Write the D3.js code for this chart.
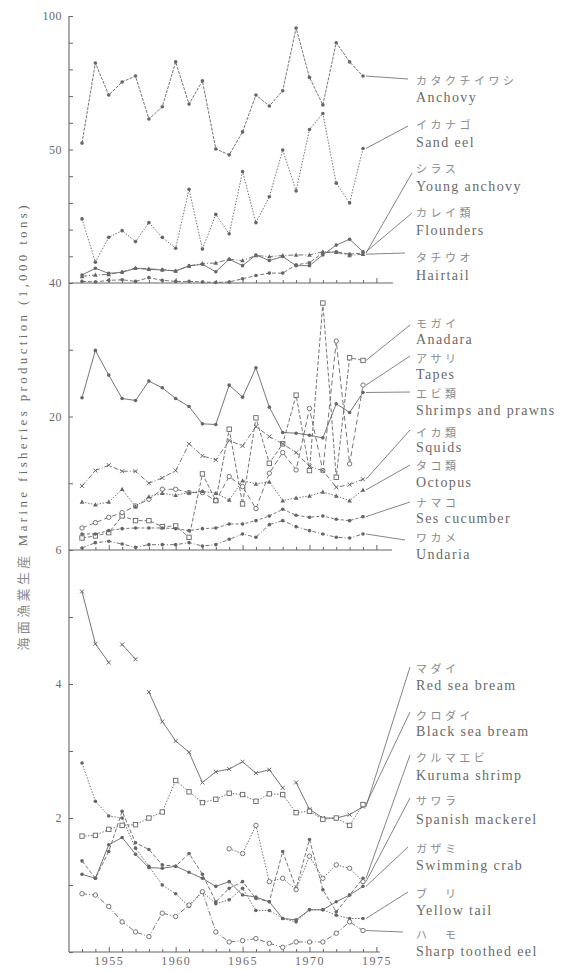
<!DOCTYPE html>
<html><head><meta charset="utf-8">
<script src="https://cdn.jsdelivr.net/npm/d3@7"></script>
<style>body{margin:0;background:#fff}svg{display:block}</style>
</head><body>
<svg id="c" width="563" height="971"></svg>
<script>
// ---------- DATA ----------
const years = d3.range(1953, 1975);
// top panel (1,000 tons)
const anchovy      = [52.4, 82.4, 70.4, 75.3, 77.5, 61.4, 66.0, 82.8, 67.0, 75.7, 50.2, 48.0, 56.6, 70.4, 66.3, 72.0, 95.5, 77.0, 66.7, 90.0, 82.8, 77.5];
const sandEel      = [24.0, 7.8, 17.1, 19.6, 15.5, 22.6, 17.1, 13.0, 35.1, 12.7, 25.7, 18.4, 41.7, 22.6, 32.3, 49.8, 34.5, 57.5, 63.5, 37.4, 30.0, 50.4];
const youngAnchovy = [0.6, 0.4, 1.0, 1.2, 0.6, 2.0, 1.0, 0.6, 0.6, 0.4, 0.2, 0.4, 1.6, 2.8, 3.7, 3.7, 6.8, 7.6, 11.3, 11.7, 10.8, 11.2];
const flounders    = [3.0, 5.5, 3.6, 4.0, 5.5, 5.1, 4.9, 4.5, 6.4, 7.0, 4.2, 8.9, 6.5, 10.5, 8.4, 9.9, 6.5, 6.5, 10.5, 14.2, 16.4, 11.7];
const hairtail     = [2.5, 3.0, 3.2, 4.2, 5.6, 5.3, 5.0, 4.5, 6.4, 7.3, 7.5, 8.9, 8.4, 10.3, 9.9, 10.3, 10.5, 10.5, 11.7, 11.5, 10.3, 10.8];
// middle panel
const anadara      = [1.8, 2.1, 2.6, 5.1, 4.4, 4.4, 3.5, 3.6, 1.9, 11.4, 7.4, 18.1, 6.9, 19.8, 13.0, 15.9, 23.2, 11.9, 37.0, 10.9, 28.8, 28.4];
const tapes        = [3.3, 4.1, 4.9, 5.6, 6.6, 7.6, 9.1, 9.1, 8.6, 8.6, 7.4, 11.0, 9.5, 6.2, 11.5, 14.6, 12.0, 21.2, 11.9, 31.3, 12.9, 24.7];
const shrimps      = [22.8, 29.9, 26.2, 22.7, 22.4, 25.3, 24.3, 22.7, 21.5, 18.9, 18.8, 24.7, 22.9, 27.3, 21.4, 17.6, 17.5, 17.2, 16.8, 21.9, 20.6, 23.6];
const squids       = [9.6, 11.9, 12.7, 11.8, 11.8, 10.0, 10.8, 11.9, 15.9, 14.1, 13.5, 16.4, 15.6, 18.5, 17.0, 15.9, 14.6, 12.5, 11.9, 9.4, 9.8, 10.6];
const octopus      = [7.2, 6.8, 7.2, 9.1, 6.5, 8.0, 8.5, 8.2, 8.6, 8.8, 8.5, 7.5, 10.4, 9.9, 10.2, 7.4, 7.8, 8.1, 8.7, 8.1, 7.4, 9.0];
const seaCucumber  = [2.4, 2.4, 2.9, 3.2, 3.3, 3.3, 3.3, 3.2, 2.9, 3.2, 3.3, 3.9, 3.9, 4.4, 5.1, 6.1, 5.2, 4.9, 5.1, 4.6, 4.4, 5.0];
const undaria      = [0.3, 1.1, 1.3, 0.9, 0.4, 0.8, 0.8, 0.8, 1.1, 0.6, 0.8, 1.6, 2.4, 1.9, 3.8, 4.4, 3.5, 2.9, 2.4, 1.9, 1.8, 2.4];
// bottom panel
const redSeaBream     = [5.38, 4.60, 4.32, 4.59, 4.37, 3.88, 3.44, 3.15, 2.98, 2.53, 2.69, 2.73, 2.84, 2.67, 2.72, 2.45, 2.53, 2.13, 2.00, 2.00, 2.05, 2.17];
const redSeaBreamGaps = [1955, 1957, 1968];
const blackSeaBream   = [1.73, 1.74, 1.83, 1.89, 1.90, 2.00, 2.09, 2.56, 2.39, 2.23, 2.28, 2.37, 2.35, 2.25, 2.36, 2.35, 2.08, 2.10, 1.98, 2.00, 1.89, 2.20];
const kurumaShrimp    = [1.36, 1.10, 1.50, 2.10, 1.63, 1.53, 1.30, 1.28, 1.47, 1.16, 0.75, 0.95, 1.05, 0.80, 0.75, 1.50, 0.95, 1.68, 0.93, 0.60, 0.85, 1.10];
const spanishMackerel = [null, null, null, null, null, null, null, null, null, null, null, 1.54, 1.47, 1.89, 1.05, 1.10, 0.93, 1.43, 1.10, 1.30, 1.25, 1.05];
const swimmingCrab    = [1.16, 1.10, 1.60, 1.71, 1.46, 1.26, 1.25, 1.28, 1.19, 1.10, 0.98, 1.05, 0.85, 0.82, 0.75, 0.50, 0.48, 0.63, 0.63, 0.75, 0.85, 0.98];
const yellowTail      = [2.82, 2.25, 2.03, 2.00, 1.55, 1.28, 1.00, 0.87, 0.68, 0.90, 0.72, 0.78, 0.95, 0.62, 0.62, 0.50, 0.45, 0.63, 0.63, 0.55, 0.50, 0.50];
const sharpToothedEel = [0.87, 0.85, 0.68, 0.45, 0.30, 0.23, 0.58, 0.53, 0.70, 0.90, 0.30, 0.15, 0.17, 0.20, 0.13, 0.07, 0.15, 0.15, 0.15, 0.28, 0.45, 0.32];

// tick labels
const topTickLabels = [100, 50];
const midTickLabels = [40, 20];
const botTickLabels = [6, 4, 2];
const xTickLabels = [1955, 1960, 1965, 1970, 1975];
const yTitleJa = "海面漁業生産";
const yTitleEn = "Marine fisheries production (1,000 tons)";

// ---------- LAYOUT ----------
const svg = d3.select("#c");
const INK = "#666", TXT = "#6a6a6a", JTXT = "#8a8a8a";
const AX = 69;
const x = d3.scaleLinear().domain([1953, 1974]).range([82, 363]);
const yTop = d3.scaleLinear().domain([0, 100]).range([283, 16]);
const yMid = d3.scaleLinear().domain([0, 40]).range([550, 283]);
const yBot = d3.scaleLinear().domain([0, 6]).range([952, 550]);

const series = [
  {v: anchovy, y: yTop, dash: "3,1.2", mk: "dot", ja: "カタクチイワシ", en: "Anchovy", jy: 80, ey: 97, lx: 408, ly: 79},
  {v: sandEel, y: yTop, dash: "1.5,1.5", mk: "dot", ja: "イカナゴ", en: "Sand eel", jy: 124, ey: 142, lx: 408, ly: 126},
  {v: youngAnchovy, y: yTop, dash: "4,2", mk: "dot", ja: "シラス", en: "Young anchovy", jy: 168, ey: 186, lx: 412, ly: 173},
  {v: flounders, y: yTop, dash: null, mk: "dot", ja: "カレイ類", en: "Flounders", jy: 212, ey: 230, lx: 412, ly: 213},
  {v: hairtail, y: yTop, dash: "5,2,1,2", mk: "tri", ja: "タチウオ", en: "Hairtail", jy: 257, ey: 275, lx: 405, ly: 253},

  {v: anadara, y: yMid, dash: "4,2", mk: "sq", ja: "モガイ", en: "Anadara", jy: 323, ey: 339, lx: 410, ly: 325},
  {v: tapes, y: yMid, dash: "5,3", mk: "ocircle", ja: "アサリ", en: "Tapes", jy: 358, ey: 374, lx: 410, ly: 356},
  {v: shrimps, y: yMid, dash: null, mk: "dot", ja: "エビ類", en: "Shrimps and prawns", jy: 393, ey: 410, lx: 410, ly: 392},
  {v: squids, y: yMid, dash: "5,2,1,2", mk: "x", ja: "イカ類", en: "Squids", jy: 432, ey: 447, lx: 410, ly: 430},
  {v: octopus, y: yMid, dash: "1.5,1.5", mk: "tri", ja: "タコ類", en: "Octopus", jy: 465, ey: 482, lx: 410, ly: 465},
  {v: seaCucumber, y: yMid, dash: "3,2", mk: "dot", ja: "ナマコ", en: "Ses cucumber", jy: 502, ey: 518, lx: 410, ly: 502},
  {v: undaria, y: yMid, dash: "4,2,1,2", mk: "dot", ja: "ワカメ", en: "Undaria", jy: 537, ey: 554, lx: 405, ly: 540},

  {v: redSeaBream, y: yBot, dash: null, mk: "x", gaps: redSeaBreamGaps, ja: "マダイ", en: "Red sea bream", jy: 668, ey: 685, lx: 410, ly: 667},
  {v: blackSeaBream, y: yBot, dash: "1.5,1.5", mk: "sq", ja: "クロダイ", en: "Black sea bream", jy: 715, ey: 731, lx: 410, ly: 712},
  {v: kurumaShrimp, y: yBot, dash: "4,2", mk: "dot", ja: "クルマエビ", en: "Kuruma shrimp", jy: 757, ey: 775, lx: 410, ly: 755},
  {v: spanishMackerel, y: yBot, dash: "1.5,1.5", mk: "ocircle", ja: "サワラ", en: "Spanish mackerel", jy: 800, ey: 819, lx: 410, ly: 798},
  {v: swimmingCrab, y: yBot, dash: null, mk: "dot", ja: "ガザミ", en: "Swimming crab", jy: 848, ey: 865, lx: 408, ly: 847},
  {v: yellowTail, y: yBot, dash: "1.5,1.5", mk: "dot", ja: "ブ　リ", en: "Yellow tail", jy: 893, ey: 910, lx: 408, ly: 892},
  {v: sharpToothedEel, y: yBot, dash: "5,2,1,2", mk: "ocircle", ja: "ハ　モ", en: "Sharp toothed eel", jy: 934, ey: 951, lx: 403, ly: 932}
];

// ---------- AXES ----------
const gAx = svg.append("g").attr("font-family", "Liberation Serif, serif").attr("font-size", 12).attr("fill", TXT);

function leftAxis(scale, step, labels) {
  const [lo, hi] = scale.domain();
  const ax = d3.axisLeft(scale)
    .tickValues(d3.range(lo, hi + 0.001, step))
    .tickSize(-4).tickPadding(7)
    .tickFormat(d => labels.includes(d) ? String(d) : "");
  const g = gAx.append("g").attr("transform", `translate(${AX},0)`).call(ax);
  g.select(".domain").remove();
  g.selectAll("line").attr("stroke", INK);
  g.selectAll("text").attr("fill", TXT).attr("font-family", "Liberation Serif, serif").attr("font-size", 12).attr("letter-spacing", 0.5);
}
leftAxis(yTop, 10, topTickLabels);
leftAxis(yMid, 10, midTickLabels);
leftAxis(yBot, 1, botTickLabels);
gAx.append("line").attr("x1", AX).attr("x2", AX).attr("y1", yTop(100)).attr("y2", yBot(0)).attr("stroke", INK).attr("stroke-width", 1.1);

function baseAxis(yPos, xEnd, withLabels) {
  const ax = d3.axisBottom(x)
    .tickValues(d3.range(1953, 1976))
    .tickSize(-3).tickPadding(4)
    .tickFormat(d => withLabels && xTickLabels.includes(d) ? String(d) : "");
  const g = gAx.append("g").attr("transform", `translate(0,${yPos})`).call(ax);
  g.select(".domain").remove();
  g.selectAll(".tick line").attr("stroke", INK).attr("y2", d => d % 5 === 0 ? -5 : -3);
  g.selectAll("text").attr("fill", TXT).attr("font-family", "Liberation Serif, serif").attr("font-size", 12).attr("letter-spacing", 1.5);
  gAx.append("line").attr("x1", AX).attr("x2", xEnd).attr("y1", yPos).attr("y2", yPos).attr("stroke", INK).attr("stroke-width", 1.1);
}
baseAxis(yTop(0), 393, false);
baseAxis(yMid(0), 392, false);
baseAxis(yBot(0), 380, true);

// y title
svg.append("text")
  .attr("transform", `translate(22,${428}) rotate(-90)`)
  .attr("text-anchor", "middle").attr("dominant-baseline", "central")
  .attr("fill", TXT).attr("font-size", 13)
  .attr("textLength", 445).attr("lengthAdjust", "spacing")
  .call(t => {
    t.append("tspan").attr("font-family", "Noto Sans CJK JP").attr("fill", JTXT).text(yTitleJa + " ");
    t.append("tspan").attr("font-family", "Liberation Serif, serif").text(yTitleEn);
  });

// ---------- SERIES ----------
const gS = svg.append("g");
function marker(g, type, cx, cy) {
  if (type === "dot") g.append("circle").attr("cx", cx).attr("cy", cy).attr("r", 1.8).attr("fill", INK);
  else if (type === "ocircle") g.append("circle").attr("cx", cx).attr("cy", cy).attr("r", 2.2).attr("fill", "#fff").attr("stroke", INK).attr("stroke-width", 0.9);
  else if (type === "sq") g.append("rect").attr("x", cx - 2.2).attr("y", cy - 2.2).attr("width", 4.4).attr("height", 4.4).attr("fill", "#fff").attr("stroke", INK).attr("stroke-width", 0.9);
  else if (type === "tri") g.append("path").attr("d", `M${cx},${cy - 2.4}L${cx + 2.3},${cy + 1.8}L${cx - 2.3},${cy + 1.8}Z`).attr("fill", INK);
  else if (type === "x") g.append("path").attr("d", `M${cx - 2},${cy - 2}L${cx + 2},${cy + 2}M${cx - 2},${cy + 2}L${cx + 2},${cy - 2}`).attr("stroke", INK).attr("stroke-width", 1);
}

series.forEach(s => {
  const g = gS.append("g");
  const pts = years.map((yr, i) => ({yr, v: s.v[i]}));
  const gaps = s.gaps || [];
  const segs = [];
  let cur = [];
  pts.forEach(p => {
    if (p.v == null) { if (cur.length) segs.push(cur); cur = []; return; }
    cur.push(p);
    if (gaps.includes(p.yr)) { segs.push(cur); cur = []; }
  });
  if (cur.length) segs.push(cur);
  const line = d3.line().x(d => x(d.yr)).y(d => s.y(d.v));
  segs.forEach(seg => {
    if (seg.length < 2) return;
    g.append("path").attr("d", line(seg)).attr("fill", "none").attr("stroke", INK)
      .attr("stroke-width", 0.9).attr("stroke-dasharray", s.dash);
  });
  pts.filter(p => p.v != null).forEach(p => marker(g, s.mk, x(p.yr), s.y(p.v)));
  const last = pts[pts.length - 1];
  g.append("line").attr("x1", x(last.yr) + 3).attr("y1", s.y(last.v))
    .attr("x2", s.lx).attr("y2", s.ly).attr("stroke", INK).attr("stroke-width", 0.8);
  svg.append("text").attr("x", 416).attr("y", s.jy).attr("dominant-baseline", "central")
    .attr("font-family", "Noto Sans CJK JP").attr("font-size", 11).attr("letter-spacing", 3.5)
    .attr("fill", JTXT).text(s.ja);
  svg.append("text").attr("x", 416).attr("y", s.ey).attr("dominant-baseline", "central")
    .attr("font-family", "Liberation Serif, serif").attr("font-size", 14).attr("letter-spacing", 1.4)
    .attr("fill", TXT).text(s.en);
});
</script>
</body></html>
